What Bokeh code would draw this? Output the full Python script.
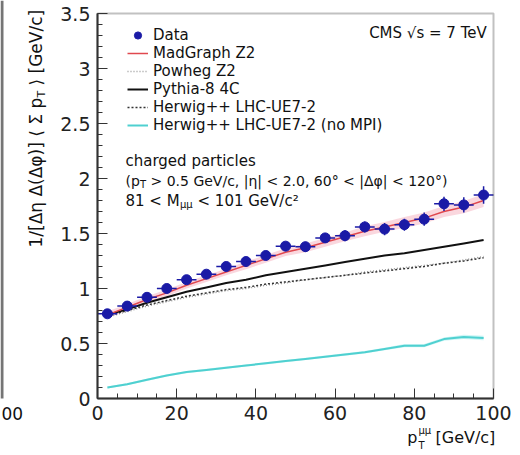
import numpy as np
from bokeh.plotting import figure
from bokeh.models import (ColumnDataSource, FixedTicker, CustomJSTickFormatter,
                          Label, Legend, LegendItem, LinearAxis, BoxAnnotation, Range1d)
from bokeh.embed import file_html
from bokeh.resources import INLINE

# ---------------- data ----------------
pt_bins = [2.5, 7.5, 12.5, 17.5, 22.5, 27.5, 32.5, 37.5, 42.5, 47.5,
           52.5, 57.5, 62.5, 67.5, 72.5, 77.5, 82.5, 87.5, 92.5, 97.5]
data_y = [0.77, 0.84, 0.92, 1.00, 1.08, 1.13, 1.20, 1.245, 1.30, 1.385,
          1.38, 1.46, 1.48, 1.56, 1.54, 1.58, 1.63, 1.77, 1.76, 1.85]
data_yerr = [0.03, 0.03, 0.03, 0.03, 0.03, 0.035, 0.035, 0.04, 0.04, 0.04,
             0.045, 0.045, 0.05, 0.05, 0.055, 0.055, 0.06, 0.065, 0.07, 0.08]
data_xerr = [2.5] * 20
madgraph = [0.76, 0.83, 0.90, 0.96, 1.03, 1.09, 1.15, 1.21, 1.27, 1.33,
            1.37, 1.42, 1.47, 1.52, 1.56, 1.60, 1.64, 1.70, 1.74, 1.80]
madgraph_unc = [0.03, 0.03, 0.03, 0.03, 0.03, 0.03, 0.03, 0.035, 0.035, 0.035,
                0.04, 0.04, 0.04, 0.045, 0.045, 0.05, 0.05, 0.05, 0.055, 0.06]
powheg = [0.74, 0.79, 0.84, 0.88, 0.92, 0.95, 0.98, 1.00, 1.03, 1.05,
          1.08, 1.10, 1.12, 1.15, 1.17, 1.19, 1.21, 1.23, 1.26, 1.29]
pythia = [0.76, 0.81, 0.87, 0.92, 0.97, 1.01, 1.05, 1.08, 1.12, 1.15,
          1.18, 1.21, 1.24, 1.27, 1.30, 1.32, 1.35, 1.38, 1.41, 1.44]
herwig = [0.75, 0.80, 0.85, 0.89, 0.93, 0.96, 0.99, 1.01, 1.04, 1.06,
          1.08, 1.10, 1.12, 1.14, 1.16, 1.18, 1.20, 1.23, 1.25, 1.28]
herwig_nompi = [0.10, 0.13, 0.17, 0.21, 0.24, 0.26, 0.28, 0.30, 0.32, 0.34,
                0.36, 0.38, 0.40, 0.42, 0.45, 0.48, 0.48, 0.54, 0.56, 0.55]
herwig_nompi_unc = [0.01, 0.01, 0.01, 0.01, 0.01, 0.01, 0.01, 0.01, 0.01, 0.01,
                    0.01, 0.01, 0.012, 0.012, 0.012, 0.015, 0.015, 0.015, 0.02, 0.02]
x_ticks = [0, 20, 40, 60, 80, 100]
x_minor = list(range(0, 101, 5))
y_ticks = [0, 0.5, 1, 1.5, 2, 2.5, 3, 3.5]
y_minor = [round(0.1 * i, 1) for i in range(36)]
x_lim = (0, 100)
y_lim = (0, 3.5)

FONT = "DejaVu Sans"
AX = "#333333"
TXT = "#111111"

# ---------------- geometry (canvas pixels) ----------------
W, H = 520, 455
FL, FR, FT, FB = 97, 493, 13, 398          # where the axes box sits
sx = (FR - FL) / (x_lim[1] - x_lim[0])
sy = (FB - FT) / (y_lim[1] - y_lim[0])
x_start = x_lim[0] - FL / sx
y_end = y_lim[1] + FT / sy

p = figure(width=W, height=H, output_backend="svg", toolbar_location=None,
           x_axis_location=None, y_axis_location=None, title=None,
           x_range=Range1d(x_start, x_start + W / sx),
           y_range=Range1d(y_end - H / sy, y_end),
           min_border_left=0, min_border_right=0, min_border_top=0,
           min_border_bottom=0)
p.grid.visible = False
p.outline_line_color = None
p.background_fill_color = "white"
p.border_fill_color = "white"

xax = LinearAxis(fixed_location=y_lim[0], bounds=x_lim)
yax = LinearAxis(fixed_location=x_lim[0], bounds=y_lim)
for ax in (xax, yax):
    ax.axis_line_color = AX
    ax.axis_line_width = 2
    ax.major_tick_in = 10
    ax.major_tick_out = 0
    ax.minor_tick_in = 5
    ax.minor_tick_out = 0
    ax.major_tick_line_color = AX
    ax.minor_tick_line_color = AX
    ax.major_label_text_font = FONT
    ax.major_label_text_font_size = "19px"
    ax.major_label_text_color = "#222222"
    ax.major_label_standoff = 7
xax.ticker = FixedTicker(ticks=x_ticks, minor_ticks=x_minor)
yax.ticker = FixedTicker(ticks=y_ticks, minor_ticks=y_minor)
fmt = CustomJSTickFormatter(code="return (Math.round(tick*10)/10).toString();")
xax.formatter = fmt
yax.formatter = fmt
p.add_layout(xax, "below")
p.add_layout(yax, "left")

# frame box
p.add_layout(BoxAnnotation(left=x_lim[0], right=x_lim[1], bottom=y_lim[0], top=y_lim[1],
                           fill_alpha=0, line_color=AX, line_width=2))
# edge of the neighbouring panel on the left
p.add_layout(BoxAnnotation(left=x_start, right=x_start + 3 / sx, bottom=y_lim[0], top=y_end,
                           fill_color="#666666", fill_alpha=0.9, line_alpha=0))

# ---------------- glyphs ----------------
src = ColumnDataSource(dict(
    x=pt_bins, y=data_y,
    x0=[a - b for a, b in zip(pt_bins, data_xerr)],
    x1=[a + b for a, b in zip(pt_bins, data_xerr)],
    y0=[a - b for a, b in zip(data_y, data_yerr)],
    y1=[a + b for a, b in zip(data_y, data_yerr)],
    mg=madgraph,
    mg_lo=[a - b for a, b in zip(madgraph, madgraph_unc)],
    mg_hi=[a + b for a, b in zip(madgraph, madgraph_unc)],
    pw=powheg, py=pythia, hw=herwig, hn=herwig_nompi,
    hn_lo=[a - b for a, b in zip(herwig_nompi, herwig_nompi_unc)],
    hn_hi=[a + b for a, b in zip(herwig_nompi, herwig_nompi_unc)],
))

p.varea(x="x", y1="mg_lo", y2="mg_hi", source=src, fill_color="#f4a6b6", fill_alpha=0.45)
p.varea(x="x", y1="hn_lo", y2="hn_hi", source=src, fill_color="#9eeeee", fill_alpha=0.5)

r_hn = p.line("x", "hn", source=src, line_color="#4fd0d0", line_width=2)
r_pw = p.line("x", "pw", source=src, line_color="#9a9a9a", line_width=1.5, line_dash="1 2")
r_hw = p.line("x", "hw", source=src, line_color="#333333", line_width=1.5, line_dash="2 2")
r_py = p.line("x", "py", source=src, line_color="#111111", line_width=2)
r_mg = p.line("x", "mg", source=src, line_color="#e0484f", line_width=1.5)

DC = "#1a1aa6"
p.segment(x0="x0", y0="y", x1="x1", y1="y", source=src, line_color=DC, line_width=1.5)
p.segment(x0="x", y0="y0", x1="x", y1="y1", source=src, line_color=DC, line_width=1.5)
r_d = p.scatter("x", "y", source=src, size=10, marker="circle", fill_color=DC, line_color=DC)

legend = Legend(items=[
    LegendItem(label="Data", renderers=[r_d]),
    LegendItem(label="MadGraph Z2", renderers=[r_mg]),
    LegendItem(label="Powheg Z2", renderers=[r_pw]),
    LegendItem(label="Pythia-8 4C", renderers=[r_py]),
    LegendItem(label="Herwig++ LHC-UE7-2", renderers=[r_hw]),
    LegendItem(label="Herwig++ LHC-UE7-2 (no MPI)", renderers=[r_hn]),
], location=(127, H - 134))
legend.margin = 0
legend.padding = 0
legend.spacing = 0
legend.glyph_width = 21
legend.glyph_height = 18
legend.label_height = 18
legend.label_standoff = 5
legend.label_text_font = FONT
legend.label_text_font_size = "15px"
legend.label_text_color = TXT
legend.border_line_alpha = 0
legend.background_fill_alpha = 0
p.add_layout(legend)


# ---------------- texts (positions in canvas pixels, from top-left) ----------------
def tx(text, px, py, size, align="left", baseline="middle", angle=0.0):
    p.add_layout(Label(x=px, y=H - py, x_units="screen", y_units="screen",
                       text=text, text_font=FONT, text_font_size=f"{size}px",
                       text_align=align, text_baseline=baseline, angle=angle,
                       text_color=TXT))


tx("CMS  \u221as = 7 TeV", 491, 32, 15, align="right")
tx("charged particles", 125, 160, 15)
tx("(p", 125, 180, 14)
tx("T", 139.5, 184, 10)
tx("> 0.5 GeV/c, |\u03b7| < 2.0, 60\u00b0 < |\u0394\u03c6| < 120\u00b0)", 150, 180, 14)
tx("81 < M", 125, 200, 15)
tx("\u03bc\u03bc", 179.5, 204, 10)
tx("< 101 GeV/c\u00b2", 197, 200, 15)

# y axis title (rotated, reading bottom to top)
A = np.pi / 2
tx("1/[\u0394\u03b7 \u0394(\u0394\u03c6)] \u27e8 \u03a3 p", 35, 247, 17, angle=A)
tx("T", 41, 97, 11, angle=A)
tx("\u27e9 [GeV/c]", 35, 85, 17, angle=A)

# x axis title
tx("p", 417, 437, 16, align="right")
tx("\u03bc\u03bc", 418, 430, 10)
tx("T", 418, 445, 10)
tx("[GeV/c]", 435, 437, 16)

# fragment of the neighbouring panel's tick label
tx("00", 1, 413, 17)

open("out.html", "w").write(file_html(p, INLINE))
